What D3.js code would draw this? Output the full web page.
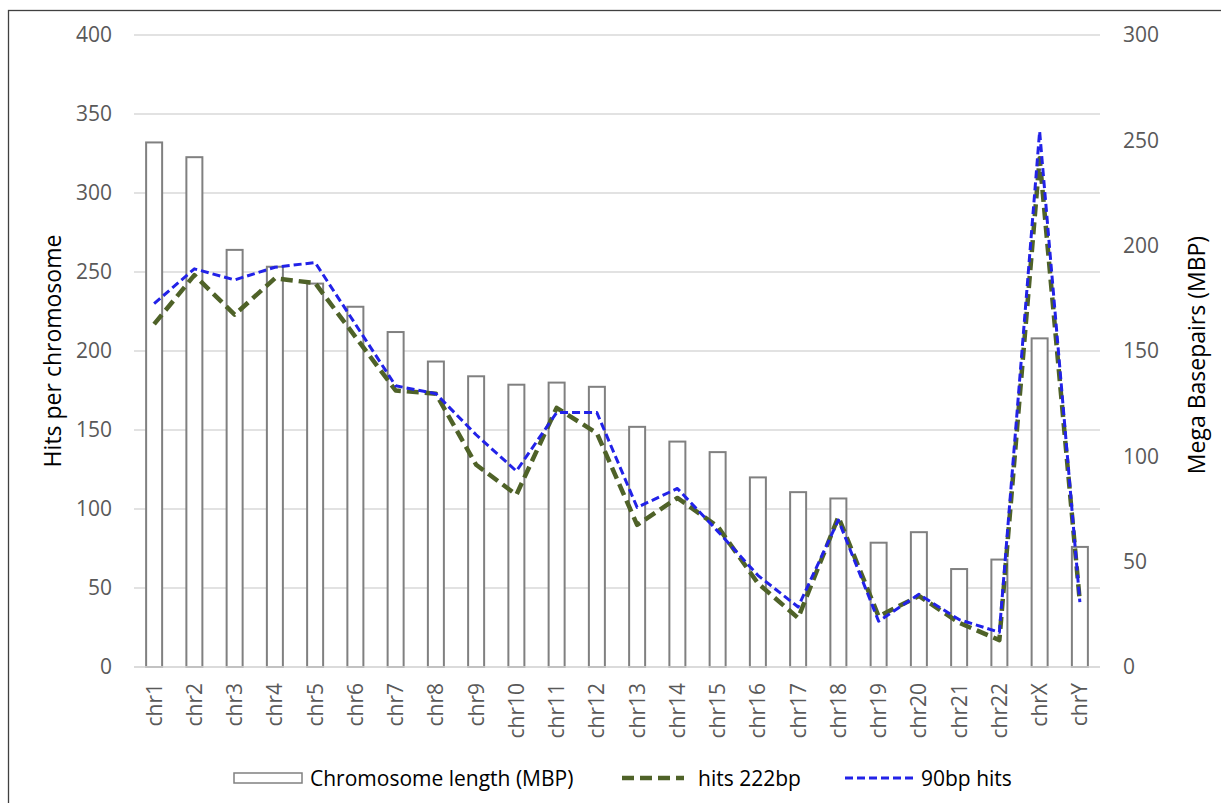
<!DOCTYPE html>
<html>
<head>
<meta charset="utf-8">
<script src="https://cdn.jsdelivr.net/npm/d3@7"></script>
<style>
  html, body { margin: 0; padding: 0; background: #fff; }
  svg { display: block; }
  text { font-family: "Open Sans", "Noto Sans", sans-serif; }
</style>
</head>
<body>
<script>
// ---- data ----
const categories = ["chr1","chr2","chr3","chr4","chr5","chr6","chr7","chr8","chr9","chr10","chr11","chr12",
  "chr13","chr14","chr15","chr16","chr17","chr18","chr19","chr20","chr21","chr22","chrX","chrY"];
const chromosomeLengthMBP = [249,242,198,190,182,171,159,145,138,134,135,133,114,107,102,90,83,80,59,64,46.5,51,156,57];
const hits222bp = [217,248,223,246,243,209,175,173,128,109,164,148,90,107,89,53,31,95,32,45,28,17,322,41];
const hits90bp  = [230,252,245,253,256,217,178,173,147,124,161,161,101,113,86,58,38,93,29,46,30,22,339,41];
const leftTicks = [0,50,100,150,200,250,300,350,400];
const rightTicks = [0,50,100,150,200,250,300];

const W = 1221, H = 803;
const plot = {left: 134, right: 1100, top: 35, bottom: 667};

const svg = d3.select("body").append("svg").attr("width", W).attr("height", H);

// outer frame
svg.append("rect").attr("x", 8.5).attr("y", 10.5).attr("width", 1230).attr("height", 820)
  .attr("fill", "none").attr("stroke", "#404040").attr("stroke-width", 1.3);

const x = d3.scaleBand().domain(categories).range([plot.left, plot.right]).paddingInner(0).paddingOuter(0);
const yL = d3.scaleLinear().domain([0, 400]).range([plot.bottom, plot.top]);
const yR = d3.scaleLinear().domain([0, 300]).range([plot.bottom, plot.top]);

// gridlines
svg.append("g").selectAll("line").data(leftTicks).join("line")
  .attr("x1", plot.left).attr("x2", plot.right)
  .attr("y1", d => yL(d)).attr("y2", d => yL(d))
  .attr("stroke", "#d9d9d9").attr("stroke-width", 1.3);

// left axis labels
const axL = svg.append("g").attr("transform", `translate(${plot.left - 22},0)`)
  .call(d3.axisLeft(yL).tickValues(leftTicks).tickSize(0).tickPadding(0));
axL.select(".domain").remove();
axL.selectAll("text").attr("font-size", 21).attr("fill", "#595959")
  .attr("font-family", '"Open Sans", sans-serif');

// right axis labels
const axR = svg.append("g").attr("transform", `translate(${plot.right + 23},0)`)
  .call(d3.axisRight(yR).tickValues(rightTicks).tickSize(0).tickPadding(0));
axR.select(".domain").remove();
axR.selectAll("text").attr("font-size", 21).attr("fill", "#595959")
  .attr("font-family", '"Open Sans", sans-serif');

// bars (right axis)
const barW = 16;
svg.append("g").selectAll("rect").data(categories).join("rect")
  .attr("x", d => x(d) + x.bandwidth() / 2 - barW / 2)
  .attr("width", barW)
  .attr("y", (d, i) => yR(chromosomeLengthMBP[i]))
  .attr("height", (d, i) => yR(0) - yR(chromosomeLengthMBP[i]))
  .attr("fill", "#fff").attr("stroke", "#808080").attr("stroke-width", 2);

// baseline
svg.append("line").attr("x1", plot.left).attr("x2", plot.right)
  .attr("y1", plot.bottom).attr("y2", plot.bottom)
  .attr("stroke", "#d9d9d9").attr("stroke-width", 1.5);

// lines
const line = vals => d3.line()
  .x((d, i) => x(categories[i]) + x.bandwidth() / 2)
  .y(d => yL(d))(vals);

svg.append("path").attr("d", line(hits222bp))
  .attr("fill", "none").attr("stroke", "#4f6228").attr("stroke-width", 4.5)
  .attr("stroke-dasharray", "12,6").attr("stroke-linejoin", "round");

svg.append("path").attr("d", line(hits90bp))
  .attr("fill", "none").attr("stroke", "#2222e8").attr("stroke-width", 3)
  .attr("stroke-dasharray", "8,4").attr("stroke-linejoin", "round");

// x labels
const axB = svg.append("g").attr("transform", `translate(0,${plot.bottom})`)
  .call(d3.axisBottom(x).tickSize(0).tickPadding(0));
axB.select(".domain").remove();
axB.selectAll("text")
  .attr("font-size", 21).attr("fill", "#595959")
  .attr("font-family", '"Open Sans", sans-serif')
  .attr("text-anchor", "end")
  .attr("transform", "translate(0,16) rotate(-90)")
  .attr("x", 0).attr("y", 0).attr("dy", "0.36em");

// axis titles
svg.append("text").attr("transform", `translate(53,351) rotate(-90)`)
  .attr("text-anchor", "middle").attr("dy", "0.36em")
  .attr("font-size", 23).attr("fill", "#000").text("Hits per chromosome");
svg.append("text").attr("transform", `translate(1197,355) rotate(-90)`)
  .attr("text-anchor", "middle").attr("dy", "0.36em")
  .attr("font-size", 23).attr("fill", "#000").text("Mega Basepairs (MBP)");

// legend
const lg = svg.append("g");
const ly = 778;
lg.append("rect").attr("x", 234).attr("y", ly - 5).attr("width", 68).attr("height", 10)
  .attr("fill", "#fff").attr("stroke", "#808080").attr("stroke-width", 1.5);
lg.append("text").attr("x", 310).attr("y", ly).attr("dy", "0.36em")
  .attr("font-size", 21).attr("fill", "#000").text("Chromosome length (MBP)");
lg.append("line").attr("x1", 622).attr("x2", 684).attr("y1", ly).attr("y2", ly)
  .attr("stroke", "#4f6228").attr("stroke-width", 4.5).attr("stroke-dasharray", "12,6");
lg.append("text").attr("x", 698).attr("y", ly).attr("dy", "0.36em")
  .attr("font-size", 21).attr("fill", "#000").text("hits 222bp");
lg.append("line").attr("x1", 845).attr("x2", 915).attr("y1", ly).attr("y2", ly)
  .attr("stroke", "#2222e8").attr("stroke-width", 3).attr("stroke-dasharray", "8,4");
lg.append("text").attr("x", 921).attr("y", ly).attr("dy", "0.36em")
  .attr("font-size", 21).attr("fill", "#000").text("90bp hits");
</script>
</body>
</html>
